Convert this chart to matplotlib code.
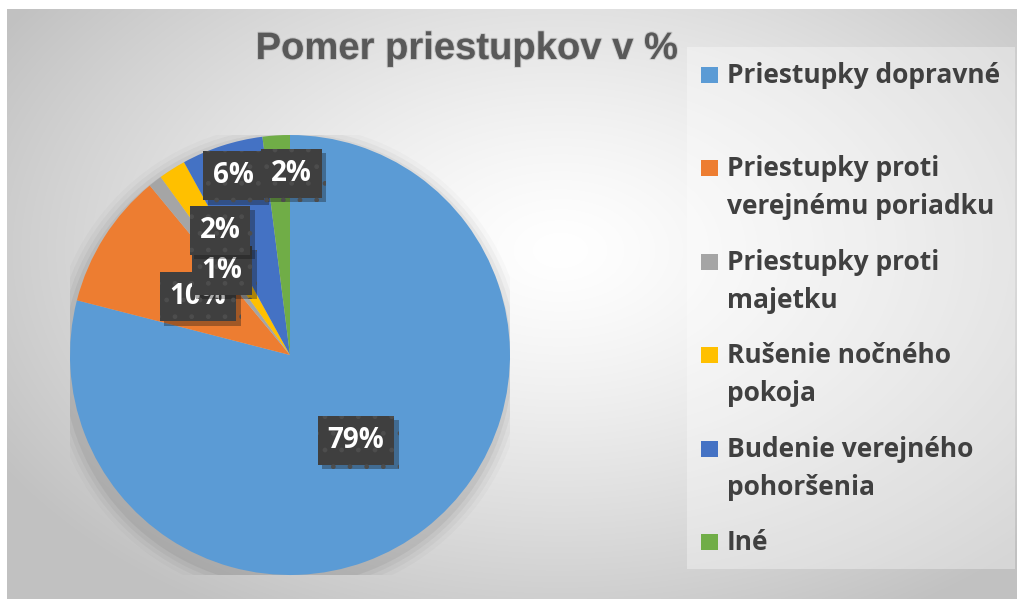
import numpy as np
import matplotlib
matplotlib.use("Agg")
import matplotlib.pyplot as plt
from matplotlib.patches import Rectangle, Circle
import matplotlib.patheffects as pe

# ---- data ----
categories = ["Priestupky dopravné", "Priestupky proti verejnému poriadku",
              "Priestupky proti majetku", "Rušenie nočného pokoja",
              "Budenie verejného pohoršenia", "Iné"]
legend_lines = [["Priestupky dopravné"],
                ["Priestupky proti", "verejnému poriadku"],
                ["Priestupky proti", "majetku"],
                ["Rušenie nočného", "pokoja"],
                ["Budenie verejného", "pohoršenia"],
                ["Iné"]]
values = [79, 10, 1, 2, 6, 2]
colors = ["#5B9BD5", "#ED7D31", "#A5A5A5", "#FFC000", "#4472C4", "#70AD47"]
title = "Pomer priestupkov v %"
# label placement (pie data units)
label_pos = [(0.30, -0.39), (-0.418, 0.264), (-0.309, 0.386),
             (-0.318, 0.568), (-0.255, 0.814), (0.005, 0.827)]

W, H = 1017, 599
fig = plt.figure(figsize=(W / 100, H / 100), dpi=100)
fig.patch.set_facecolor("white")

# ---- background gradient (chart area) ----
x0, y0 = 7, 9
bg = fig.add_axes([x0 / W, 0, 1 - x0 / W, (H - y0) / H], zorder=0)
bg.set_axis_off()
yy, xx = np.mgrid[y0:H, x0:W]
cx, cy = 560, 250
d = np.sqrt(((xx - cx) / 650.0) ** 2 + ((yy - cy) / 420.0) ** 2)
d = np.clip(d, 0, 1) ** 1.3
val = 1.0 - (1.0 - 0.76) * d
img = np.dstack([val, val, val])
bg.imshow(img, aspect="auto", extent=[0, 1, 0, 1], interpolation="bilinear")
bg.set_xlim(0, 1)
bg.set_ylim(0, 1)

# ---- pie ----
pcx, pcy, pr = 290, 355, 220
pax = fig.add_axes([(pcx - pr) / W, (H - pcy - pr) / H, 2 * pr / W, 2 * pr / H], zorder=1)
for rr, a in [(1.08, 0.02), (1.06, 0.03), (1.04, 0.04), (1.02, 0.05)]:
    pax.add_patch(Circle((-0.01, -0.03), rr, facecolor="black", alpha=a, edgecolor="none", zorder=0))
wedges, _texts, autotexts = pax.pie(values, colors=colors, startangle=90, counterclock=False,
                                   autopct=lambda p: f"{p:.0f}%", pctdistance=0.5,
                                   wedgeprops=dict(edgecolor="none", zorder=1),
                                   textprops=dict(color="white", fontsize=20, fontweight="bold",
                                                  family="Open Sans"))
pax.set_xlim(-1, 1)
pax.set_ylim(-1, 1)
pax.set_aspect("auto")
for i, (t, pos) in enumerate(zip(autotexts, label_pos)):
    t.set_position(pos)
    t.set_ha("center")
    t.set_va("center")
    t.set_clip_on(False)
    t.set_zorder(5 + i)
    t.set_bbox(dict(boxstyle="square,pad=0.36", facecolor="#3f3f3f", edgecolor="#4d4d4d",
                    linewidth=0, hatch="."))
    t.get_bbox_patch().set_path_effects([pe.SimplePatchShadow(offset=(3, -3), alpha=0.35),
                                         pe.Normal()])

# ---- overlay in pixel coords ----
ov = fig.add_axes([0, 0, 1, 1], zorder=3)
ov.set_xlim(0, W)
ov.set_ylim(H, 0)
ov.set_axis_off()
ov.patch.set_alpha(0)

ov.text(467, 59, title, fontsize=27.5, fontweight="bold", color="#595959",
        family="Liberation Sans", ha="center", va="baseline",
        path_effects=[pe.withStroke(linewidth=1.5, foreground="#9a9a9a", alpha=0.35)])

# legend box
ov.add_patch(Rectangle((687, 47), 328, 522, facecolor="white", alpha=0.35, edgecolor="none"))
base0, step = 83, 93.4
for i, (lines, c) in enumerate(zip(legend_lines, colors)):
    b = base0 + i * step
    ov.add_patch(Rectangle((701, b - 16), 17, 16, facecolor=c, edgecolor="none"))
    for j, ln in enumerate(lines):
        ov.text(727, b + j * 38, ln, fontsize=19, fontweight="bold", color="#404040",
                family="Open Sans", ha="left", va="baseline")

fig.savefig("out.png", dpi=100)
